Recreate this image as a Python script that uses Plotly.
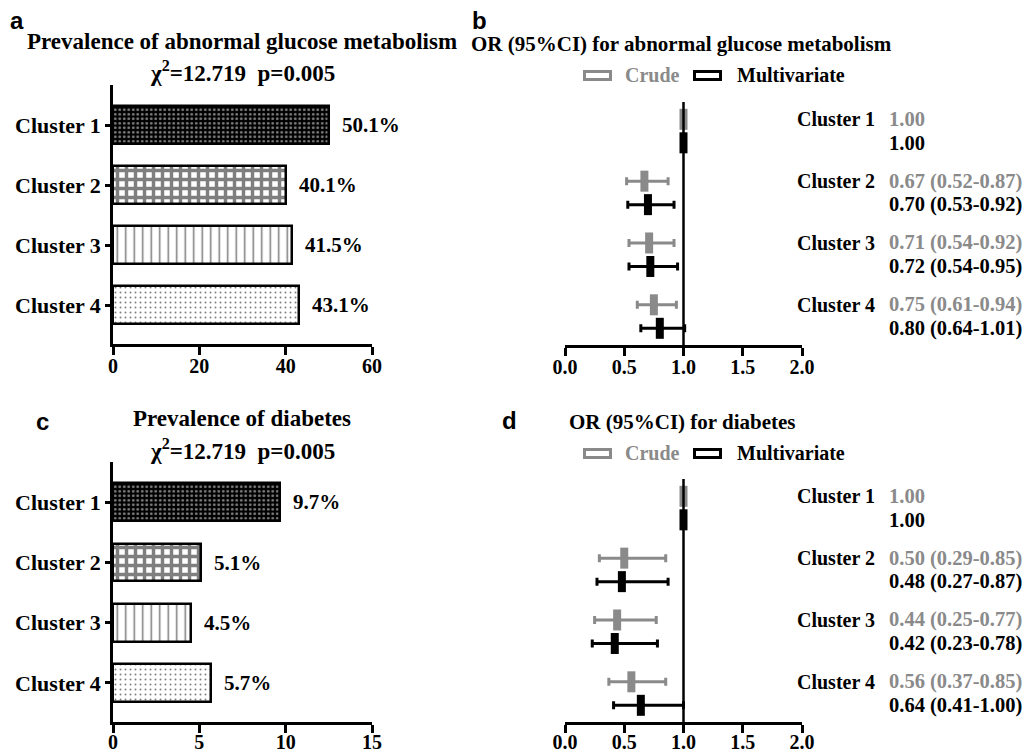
import plotly.graph_objects as go

# page has an 8px body margin; the figure is sized to fit the window
OX, OY = 8, 8
W, H = 1033 - OX, 753 - OY

# ---------------- data ----------------
clusters = ["Cluster 1", "Cluster 2", "Cluster 3", "Cluster 4"]
prev_abnormal = [50.1, 40.1, 41.5, 43.1]
prev_diabetes = [9.7, 5.1, 4.5, 5.7]

agm_crude_or = [1.00, 0.67, 0.71, 0.75]
agm_crude_lo = [1.00, 0.52, 0.54, 0.61]
agm_crude_hi = [1.00, 0.87, 0.92, 0.94]
agm_multi_or = [1.00, 0.70, 0.72, 0.80]
agm_multi_lo = [1.00, 0.53, 0.54, 0.64]
agm_multi_hi = [1.00, 0.92, 0.95, 1.01]

dm_crude_or = [1.00, 0.50, 0.44, 0.56]
dm_crude_lo = [1.00, 0.29, 0.25, 0.37]
dm_crude_hi = [1.00, 0.85, 0.77, 0.85]
dm_multi_or = [1.00, 0.48, 0.42, 0.64]
dm_multi_lo = [1.00, 0.27, 0.23, 0.41]
dm_multi_hi = [1.00, 0.87, 0.78, 1.00]

bar_ticks_a = [0, 20, 40, 60]
bar_ticks_c = [0, 5, 10, 15]
or_ticks = [0.0, 0.5, 1.0, 1.5, 2.0]

# ---------------- style ----------------
SERIF = "Liberation Serif"
SANS = "Liberation Sans"
GRAY = "#8a8a8a"
BLACK = "#000000"

patterns = [
    dict(shape=".", fgcolor="white", bgcolor="black", size=4.5, solidity=0.3),
    dict(shape="+", fgcolor="black", bgcolor="white", size=9, solidity=0.62),
    dict(shape="|", fgcolor="black", bgcolor="white", size=8.5, solidity=0.18),
    dict(shape=".", fgcolor="black", bgcolor="white", size=5, solidity=0.12),
]
bar_colors = ["black", "white", "white", "white"]


def px(x):
    return (x - OX) / W


def py(y):
    return 1 - (y - OY) / H


fig = go.Figure()
annotations = []
shapes = []

ypos = list(range(len(clusters)))

# ---------------- bar panels ----------------
for vals, xa, ya in [(prev_abnormal, "x", "y"), (prev_diabetes, "x3", "y3")]:
    for i, v in enumerate(vals):
        fig.add_trace(go.Bar(
            x=[v], y=[ypos[i]], orientation="h", width=0.63,
            marker=dict(color=bar_colors[i], pattern=patterns[i],
                        line=dict(color="black", width=2.5)),
            xaxis=xa, yaxis=ya, showlegend=False, hoverinfo="skip",
        ))
        annotations.append(dict(
            x=v, y=ypos[i], xref=xa, yref=ya, text=f"{v:.1f}%",
            showarrow=False, xanchor="left", xshift=11,
            font=dict(family=SERIF, size=21, color="black", weight="bold"),
        ))

# ---------------- forest panels ----------------
OFF = 0.19
forest_sets = [
    ("x2", "y2", agm_crude_or, agm_crude_lo, agm_crude_hi, agm_multi_or, agm_multi_lo, agm_multi_hi),
    ("x4", "y4", dm_crude_or, dm_crude_lo, dm_crude_hi, dm_multi_or, dm_multi_lo, dm_multi_hi),
]
for xa, ya, co, cl, ch, mo, ml, mh in forest_sets:
    for (o, lo, hi, col, off) in [(co, cl, ch, GRAY, -OFF), (mo, ml, mh, BLACK, OFF)]:
        fig.add_trace(go.Scatter(
            x=o, y=[p + off for p in ypos], mode="markers",
            marker=dict(symbol="line-ns", size=15, color=col,
                        line=dict(color=col, width=8)),
            error_x=dict(type="data", symmetric=False,
                         array=[h - v for h, v in zip(hi, o)],
                         arrayminus=[v - l for v, l in zip(o, lo)],
                         color=col, thickness=3, width=4),
            xaxis=xa, yaxis=ya, showlegend=False, hoverinfo="skip",
        ))
    shapes.append(dict(type="line", xref=xa, yref=f"{ya} domain",
                       x0=1, x1=1, y0=0, y1=1,
                       line=dict(color="black", width=2.5)))
    for i in ypos:
        annotations.append(dict(
            x=px(877), y=i - OFF, xref="paper", yref=ya, text=clusters[i],
            showarrow=False, xanchor="right",
            font=dict(family=SERIF, size=20, color="black", weight="bold")))
        if i == 0:
            ct = f"{co[i]:.2f}"
            mt = f"{mo[i]:.2f}"
        else:
            ct = f"{co[i]:.2f} ({cl[i]:.2f}-{ch[i]:.2f})"
            mt = f"{mo[i]:.2f} ({ml[i]:.2f}-{mh[i]:.2f})"
        annotations.append(dict(
            x=px(887), y=i - OFF, xref="paper", yref=ya, text=ct,
            showarrow=False, xanchor="left",
            font=dict(family=SERIF, size=20.5, color=GRAY, weight="bold")))
        annotations.append(dict(
            x=px(887), y=i + OFF, xref="paper", yref=ya, text=mt,
            showarrow=False, xanchor="left",
            font=dict(family=SERIF, size=20.5, color="black", weight="bold")))

# ---------------- titles, panel letters, legends ----------------
def txt(x, y, s, size, family=SERIF, color="black", anchor="center"):
    annotations.append(dict(x=px(x), y=py(y), xref="paper", yref="paper", text=s,
                            showarrow=False, xanchor=anchor, yanchor="middle",
                            font=dict(family=family, size=size, color=color, weight="bold")))


txt(17, 20, "a", 24, SANS)
txt(479, 20, "b", 24, SANS)
txt(42, 421, "c", 24, SANS)
txt(509, 420, "d", 24, SANS)

chi = "\u03c7<sup>2</sup>=12.719\u00a0\u00a0p=0.005"
txt(242, 42, "Prevalence of abnormal glucose metabolism", 23)
txt(242, 71, chi, 23)
txt(242, 418, "Prevalence of diabetes", 23)
txt(242, 449, chi, 23)

txt(681, 44, "OR (95%CI) for abnormal glucose metabolism", 21)
txt(682, 422, "OR (95%CI) for diabetes", 21)

for ly in (75, 453):
    for cx, col in ((597, GRAY), (707, BLACK)):
        annotations.append(dict(x=px(cx), y=py(ly), xref="paper", yref="paper", text=" ",
                                showarrow=False, width=23, height=5, borderpad=0,
                                bordercolor=col, borderwidth=3,
                                xanchor="center", yanchor="middle",
                                font=dict(size=2)))
    txt(623, ly, "Crude", 20, color=GRAY, anchor="left")
    txt(735, ly, "Multivariate", 20, anchor="left")

# ---------------- axes ----------------
axfont = dict(family=SERIF, size=20, color="black", weight="bold")
common_x = dict(showline=True, linecolor="black", linewidth=2.5, ticks="outside",
                ticklen=8, tickwidth=2.5, tickcolor="black", showgrid=False,
                zeroline=False, tickfont=axfont, mirror=False, automargin=False)
common_ybar = dict(showline=True, linecolor="black", linewidth=2.5, ticks="outside",
                   ticklen=5, tickwidth=2.5, tickcolor="black", showgrid=False,
                   zeroline=False, tickfont=dict(family=SERIF, size=22, color="black", weight="bold"),
                   tickvals=ypos, ticktext=clusters, range=[3.65, -0.67], automargin=False)
common_yfor = dict(visible=False, range=[3.46, -0.47], showgrid=False, zeroline=False,
                   automargin=False)

fig.update_layout(
    width=W, height=H, autosize=False,
    margin=dict(l=0, r=0, t=0, b=0, pad=0, autoexpand=False),
    paper_bgcolor="white", plot_bgcolor="white",
    bargap=0, barmode="overlay",
    showlegend=False,
    xaxis=dict(domain=[px(113), px(372)], range=[0, 60], tickvals=bar_ticks_a,
               anchor="y", ticklabelstandoff=-6, **common_x),
    yaxis=dict(domain=[py(344), py(85)], anchor="x", **common_ybar),
    xaxis3=dict(domain=[px(113), px(372)], range=[0, 15], tickvals=bar_ticks_c,
                anchor="y3", ticklabelstandoff=-8, **common_x),
    yaxis3=dict(domain=[py(722), py(462)], anchor="x3", **common_ybar),
    xaxis2=dict(domain=[px(565), px(802)], range=[0, 2], tickvals=or_ticks,
                tickformat=".1f", anchor="y2", ticklabelstandoff=-6, **common_x),
    yaxis2=dict(domain=[py(345), py(102)], anchor="x2", **common_yfor),
    xaxis4=dict(domain=[px(565), px(802)], range=[0, 2], tickvals=or_ticks,
                tickformat=".1f", anchor="y4", ticklabelstandoff=-8, **common_x),
    yaxis4=dict(domain=[py(722), py(479)], anchor="x4", **common_yfor),
    annotations=annotations,
    shapes=shapes,
)

fig.write_html("out.html")
